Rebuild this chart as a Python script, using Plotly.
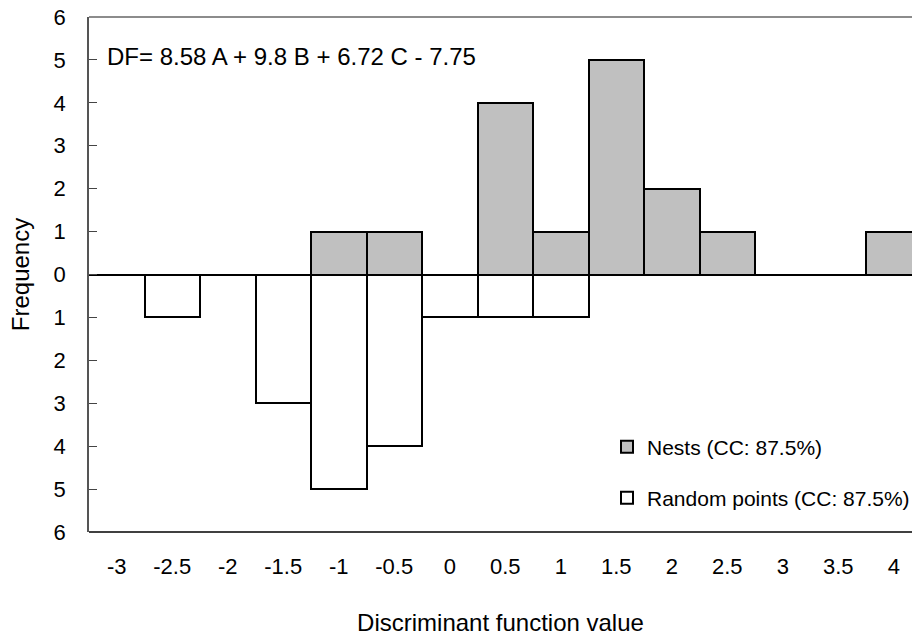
import plotly.graph_objects as go

# ---- data ----
bins = [-3, -2.5, -2, -1.5, -1, -0.5, 0, 0.5, 1, 1.5, 2, 2.5, 3, 3.5, 4]
bin_labels = ["-3", "-2.5", "-2", "-1.5", "-1", "-0.5", "0", "0.5", "1", "1.5", "2", "2.5", "3", "3.5", "4"]
nests = [0, 0, 0, 0, 1, 1, 0, 4, 1, 5, 2, 1, 0, 0, 1]
random_points = [0, 1, 0, 3, 5, 4, 1, 1, 1, 0, 0, 0, 0, 0, 0]
y_ticks = [-6, -5, -4, -3, -2, -1, 0, 1, 2, 3, 4, 5, 6]
y_tick_labels = [str(abs(v)) for v in y_ticks]
nests_name = "Nests (CC: 87.5%)"
random_name = "Random points (CC: 87.5%)"
equation = "DF= 8.58 A + 9.8 B + 6.72 C - 7.75"

FONT = "Arial, 'Liberation Sans', sans-serif"

fig = go.Figure()
fig.add_trace(go.Bar(
    x=bins, y=nests, name=nests_name, width=0.5, showlegend=True,
    marker=dict(color="#c0c0c0", line=dict(color="black", width=2)),
    legend="legend",
))
fig.add_trace(go.Bar(
    x=bins, y=[-v for v in random_points], name=random_name, width=0.5, showlegend=True,
    marker=dict(color="white", line=dict(color="black", width=2)),
    legend="legend2",
))

W, H = 912, 638
left, top, bottom = 89, 17, 532
ph = bottom - top
pw = W - left


def py(pix):
    return (bottom - pix) / ph


def px(pix):
    return (pix - left) / pw


fig.update_layout(
    width=W, height=H, autosize=False, showlegend=True,
    margin=dict(l=left, r=0, t=top, b=H - bottom, pad=0, autoexpand=False),
    paper_bgcolor="white", plot_bgcolor="white",
    barmode="overlay", bargap=0,
    font=dict(family=FONT, color="black", size=22),
    xaxis=dict(
        range=[-3.25, -3.25 + pw / 111.0],
        tickmode="array", tickvals=bins, ticktext=bin_labels,
        ticks="outside", ticklen=15, tickcolor="rgba(0,0,0,0)",
        showgrid=False, zeroline=False, showline=False,
        tickfont=dict(size=22),
        title=dict(text="Discriminant function value", font=dict(size=24), standoff=35),
    ),
    yaxis=dict(
        range=[-6, 6], tickmode="array", tickvals=y_ticks, ticktext=y_tick_labels,
        ticks="inside", ticklen=8, tickcolor="#444", tickwidth=1,
        showline=True, linecolor="#555", linewidth=1.5,
        showgrid=False, zeroline=True, zerolinecolor="#808080", zerolinewidth=1.5,
        ticklabelstandoff=17,
        tickfont=dict(size=22),
        title=dict(text="Frequency", font=dict(size=24), standoff=17),
    ),
    legend=dict(x=px(607), y=py(447), xanchor="left", yanchor="middle",
                bgcolor="rgba(0,0,0,0)", font=dict(size=21), itemwidth=30),
    legend2=dict(x=px(607), y=py(498), xanchor="left", yanchor="middle",
                 bgcolor="rgba(0,0,0,0)", font=dict(size=21), itemwidth=30),
    shapes=[
        dict(type="line", xref="paper", yref="paper", x0=0, x1=1, y0=1, y1=1,
             line=dict(color="#666", width=1.5)),
        dict(type="line", xref="paper", yref="paper", x0=0, x1=1, y0=0, y1=0,
             line=dict(color="black", width=1.5)),
    ],
    annotations=[dict(
        text=equation, xref="paper", yref="paper", x=px(105), y=py(57),
        xanchor="left", yanchor="middle", showarrow=False, font=dict(size=24),
    )],
)

fig.write_html("out.html", config={"displayModeBar": False},
               post_script="document.body.style.margin='0';document.body.style.overflow='hidden';")
